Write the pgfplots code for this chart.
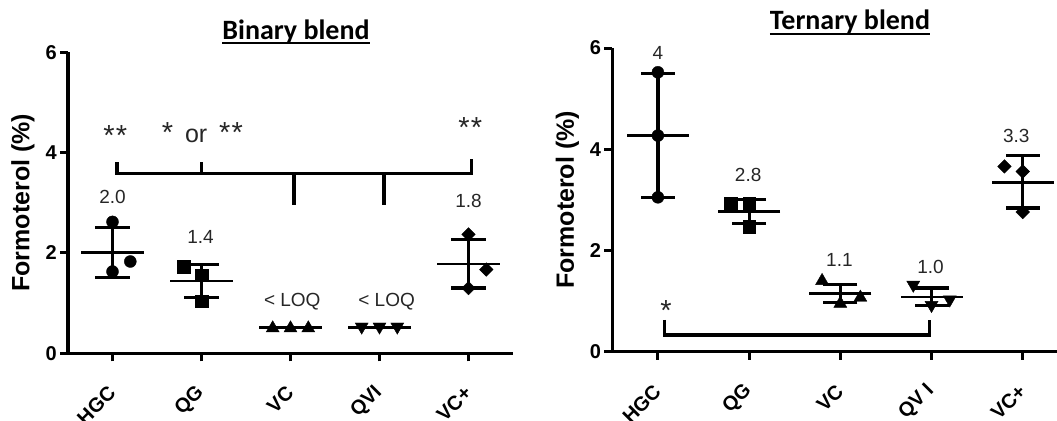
\documentclass[border=0pt]{standalone}
\usepackage{fontspec}
\setmainfont{Liberation Sans}
\newfontfamily\titlefont{Carlito}
\usepackage{pgfplots}
\pgfplotsset{compat=1.18}
\usepackage{pgfplotstable}
\definecolor{txt}{HTML}{262626}

% summary statistics: x, mean, upper and lower end of the SD bar
\pgfplotstableread{
x m hi lo
0 2.01 2.51 1.51
1 1.44 1.77 1.11
2 0.51 0.51 0.51
3 0.51 0.51 0.51
4 1.78 2.27 1.30
}\binsum
\pgfplotstableread{
x m hi lo
0 4.27 5.50 3.05
1 2.77 3.00 2.54
2 1.15 1.32 0.97
3 1.08 1.26 0.92
4 3.34 3.87 2.84
}\tersum

\newcommand{\bigast}{{\fontsize{29bp}{30bp}\selectfont *}}
\tikzset{
 anno/.style={font=\fontsize{19bp}{22bp}\selectfont, text=txt, anchor=base, inner sep=0pt},
 sigstar/.style={font=\fontsize{25bp}{28bp}\selectfont, text=txt, anchor=base, inner sep=0pt},
 br/.style={line width=3.2bp, black, mark=none, line join=miter},
}
\pgfplotsset{
 panel/.style={
  scale only axis, clip=false,
  xmin=-0.5, ymin=0, ymax=6,
  axis x line*=bottom, axis y line*=left,
  axis line style={line width=3bp, black},
  tick style={line width=3bp, black},
  tick align=outside, major tick length=8bp,
  xtick={0,1,2,3,4}, ytick={0,2,4,6},
  /pgf/number format/assume math mode=true,
  yticklabel style={font=\bfseries\fontsize{20bp}{22bp}\selectfont, inner sep=0pt, anchor=east, xshift=-3bp},
  xticklabel style={font=\bfseries\fontsize{20bp}{22bp}\selectfont, rotate=45, anchor=east, inner sep=0pt, xshift=-20.3bp, yshift=-19.7bp},
  ylabel style={font=\bfseries\fontsize{25bp}{28bp}\selectfont, at={(axis description cs:0,0.5)}, anchor=center, yshift=45bp},
  ylabel={Formoterol (\%)},
 },
 sdbar/.style={line width=3.2bp, black, mark=none, unbounded coords=jump},
 capm/.style={only marks, mark=-, mark size=17bp, mark options={line width=3.2bp, black}},
 meanl/.style={only marks, mark=-, mark size=31bp, mark options={line width=2.6bp, black}},
 pts/.style={only marks, black, mark options={fill=black, draw=black}},
}

\begin{document}
\begin{tikzpicture}
\useasboundingbox (0,0) rectangle (1057bp,421bp);

% ---------- Binary blend ----------
\begin{axis}[panel, at={(68bp,67.7bp)}, anchor=south west, width=445bp, height=301bp,
  xmax=4.5, xticklabels={HGC,QG,VC,QVI,VC+}]
\addplot[sdbar] coordinates {(0,2.51) (0,1.51) (0,nan) (1,1.77) (1,1.11) (1,nan) (4,2.27) (4,1.30)};
\addplot[capm] table[x=x, y=hi, skip coords between index={2}{4}] {\binsum};
\addplot[capm] table[x=x, y=lo, skip coords between index={2}{4}] {\binsum};
\addplot[meanl] table[x=x, y=m] {\binsum};
\addplot[pts, mark=*, mark size=6bp] coordinates {(0,2.62) (0.2,1.83) (0,1.63)};
\addplot[pts, mark=square*, mark size=6.2bp] coordinates {(0.8,1.73) (1,1.56) (1,1.04)};
\addplot[pts, mark=triangle*, mark size=7.5bp] coordinates {(1.8,0.50) (2,0.50) (2.2,0.50)};
\addplot[pts, mark=triangle*, mark size=7.5bp, mark options={rotate=180}] coordinates {(2.8,0.53) (3,0.53) (3.2,0.53)};
\addplot[pts, mark=square*, mark size=4.8bp, mark options={rotate=45}] coordinates {(4,2.37) (4.2,1.67) (4,1.30)};
% significance bracket
\addplot[br] coordinates {(0.05,3.81) (0.05,3.59) (4.03,3.59) (4.03,3.87)};
\addplot[br] coordinates {(1,3.59) (1,3.81)};
\addplot[br] coordinates {(2.04,3.59) (2.04,2.96)};
\addplot[br] coordinates {(3.05,3.59) (3.05,2.96)};
\node[sigstar] at (axis cs:0.03,4.15) {\bigast\hspace{0.05em}\bigast};
\node[sigstar] at (axis cs:1.01,4.21) {\bigast\hspace{0.2em} or\hspace{0.2em} \bigast\hspace{0.05em}\bigast};
\node[sigstar] at (axis cs:4.02,4.31) {\bigast\hspace{0.05em}\bigast};
\node[anno] at (axis cs:0,2.98) {2.0};
\node[anno] at (axis cs:0.99,2.19) {1.4};
\node[anno] at (axis cs:2.02,0.93) {< LOQ};
\node[anno] at (axis cs:3.08,0.93) {< LOQ};
\node[anno] at (axis cs:4,2.91) {1.8};
\end{axis}

% ---------- Ternary blend ----------
\begin{axis}[panel, at={(612.3bp,69.3bp)}, anchor=south west, width=446.9bp, height=303.7bp,
  xmax=4.4, xticklabels={HGC,QG,VC,QV I,VC+}]
\addplot[sdbar] coordinates {(0,5.50) (0,3.05) (0,nan) (1,3.00) (1,2.54) (1,nan) (2,1.32) (2,0.97) (2,nan) (3,1.26) (3,0.92) (3,nan) (4,3.87) (4,2.84)};
\addplot[capm] table[x=x, y=hi] {\tersum};
\addplot[capm] table[x=x, y=lo] {\tersum};
\addplot[meanl] table[x=x, y=m] {\tersum};
\addplot[pts, mark=*, mark size=6bp] coordinates {(0,5.52) (0,4.27) (0,3.05)};
\addplot[pts, mark=square*, mark size=6.2bp] coordinates {(0.8,2.93) (1,2.93) (1,2.47)};
\addplot[pts, mark=triangle*, mark size=7.5bp] coordinates {(1.8,1.40) (2.22,1.07) (2,0.95)};
\addplot[pts, mark=triangle*, mark size=7.5bp, mark options={rotate=180}] coordinates {(2.8,1.32) (3.2,1.03) (3,0.92)};
\addplot[pts, mark=square*, mark size=4.8bp, mark options={rotate=45}] coordinates {(3.8,3.66) (4,3.56) (4,2.76)};
\addplot[br] coordinates {(0.07,0.63) (0.07,0.33) (2.98,0.33) (2.98,0.63)};
\node[sigstar] at (axis cs:0.09,0.62) {\bigast};
\node[anno] at (axis cs:0,5.78) {4};
\node[anno] at (axis cs:0.99,3.36) {2.8};
\node[anno] at (axis cs:1.99,1.68) {1.1};
\node[anno] at (axis cs:2.99,1.54) {1.0};
\node[anno] at (axis cs:3.93,4.13) {3.3};
\end{axis}

% ---------- titles ----------
\node[font=\titlefont\bfseries\fontsize{28bp}{30bp}\selectfont, anchor=base, inner sep=0pt] (t1) at (296bp,381.7bp) {Binary blend};
\draw[line width=1.8bp] ([yshift=-3.7bp]t1.base west) -- ([yshift=-3.7bp]t1.base east);
\node[font=\titlefont\bfseries\fontsize{28bp}{30bp}\selectfont, anchor=base, inner sep=0pt] (t2) at (850bp,391bp) {Ternary blend};
\draw[line width=1.8bp] ([yshift=-3.7bp]t2.base west) -- ([yshift=-3.7bp]t2.base east);
\end{tikzpicture}
\end{document}
